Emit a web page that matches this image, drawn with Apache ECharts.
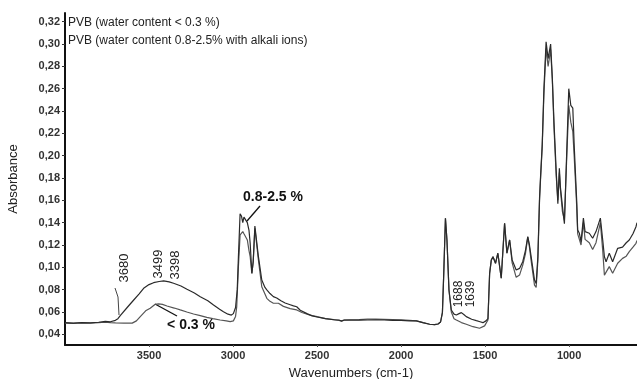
<!DOCTYPE html>
<html>
<head>
<meta charset="utf-8">
<script src="https://cdn.jsdelivr.net/npm/echarts@6/dist/echarts.min.js"></script>
<style>
html,body{margin:0;padding:0;background:#fff;}
#chart{width:637px;height:379px;}
</style>
</head>
<body>
<div id="chart"></div>
<script>
// Wavenumbers (cm-1) and absorbance, PVB water content 0.8-2.5 % with alkali ions
var wnHigh = [4000,3950,3900,3850,3800,3760,3730,3700,3685,3670,3630,3591,3560,3532,3500,3473,3440,3413,3380,3354,3310,3274,3230,3195,3150,3116,3080,3057,3030,3010,2998,2985,2975,2968,2958,2950,2942,2935,2928,2915,2905,2898,2888,2880,2870,2863,2849,2829,2810,2799,2780,2760,2740,2730,2715,2690,2660,2640,2621,2600,2560,2530,2500,2450,2400,2370,2354,2340,2300,2250,2200,2150,2100,2050,2000,1950,1909,1870,1830,1800,1780,1765,1754,1746,1736,1727,1715,1701,1685,1671,1655,1641,1625,1612,1580,1552,1530,1513,1495,1483,1473,1463,1453,1438,1424,1404,1384,1370,1354,1339,1315,1295,1276,1260,1246,1236,1226,1206,1196,1186,1176,1170,1160,1150,1137,1125,1110,1100,1090,1077,1067,1058,1052,1040,1028,1015,1002,990,978,970,955,949,939,929,915,905,880,860,840,814,800,790,780,761,741,711,682,660,642,620,602,596];
var absHigh = [0.0505,0.0500,0.0505,0.0503,0.0508,0.0515,0.0512,0.0525,0.0540,0.0570,0.0640,0.0707,0.0760,0.0812,0.0845,0.0862,0.0873,0.0878,0.0870,0.0857,0.0832,0.0803,0.0770,0.0737,0.0700,0.0662,0.0625,0.0602,0.0580,0.0572,0.0585,0.0640,0.0800,0.1095,0.1480,0.1460,0.1400,0.1450,0.1460,0.1400,0.1330,0.1215,0.0946,0.1050,0.1370,0.1360,0.1095,0.0886,0.0820,0.0797,0.0765,0.0737,0.0725,0.0722,0.0700,0.0680,0.0665,0.0655,0.0647,0.0615,0.0585,0.0565,0.0555,0.0540,0.0530,0.0528,0.0518,0.0526,0.0526,0.0526,0.0528,0.0530,0.0528,0.0525,0.0525,0.0520,0.0520,0.0505,0.0490,0.0486,0.0492,0.0510,0.0595,0.0946,0.1440,0.1245,0.0797,0.0618,0.0580,0.0573,0.0585,0.0594,0.0575,0.0558,0.0535,0.0522,0.0512,0.0504,0.0520,0.0540,0.0946,0.1066,0.1095,0.1036,0.1126,0.0902,0.1394,0.1126,0.1245,0.1066,0.0976,0.0990,0.1050,0.1150,0.1274,0.1200,0.1095,0.0886,0.0856,0.1095,0.1620,0.1810,0.2100,0.2600,0.3020,0.2870,0.3000,0.2700,0.2300,0.1870,0.1570,0.1887,0.1720,0.1550,0.1390,0.2000,0.2600,0.2450,0.2425,0.2100,0.1600,0.1334,0.1305,0.1230,0.1440,0.1320,0.1305,0.1260,0.1320,0.1440,0.1245,0.1095,0.1050,0.1126,0.1050,0.1170,0.1180,0.1220,0.1245,0.1300,0.1364,0.1400];

// PVB water content < 0.3 %
var wnLow = [4000,3950,3900,3850,3800,3760,3730,3700,3650,3600,3575,3552,3520,3493,3463,3443,3420,3393,3350,3314,3275,3235,3195,3156,3120,3077,3040,3017,2998,2985,2978,2968,2958,2950,2942,2935,2928,2915,2905,2898,2888,2880,2870,2863,2849,2829,2810,2799,2780,2760,2730,2700,2660,2621,2590,2550,2500,2450,2400,2354,2340,2300,2250,2200,2150,2100,2050,2000,1950,1909,1870,1830,1800,1780,1765,1754,1746,1736,1727,1715,1701,1685,1671,1641,1612,1572,1533,1503,1483,1473,1463,1453,1438,1424,1404,1384,1370,1354,1339,1315,1295,1276,1260,1246,1236,1226,1206,1196,1186,1176,1170,1160,1150,1137,1125,1110,1100,1090,1077,1067,1058,1052,1040,1028,1015,1002,990,978,970,955,949,939,929,915,905,880,860,840,814,800,790,780,761,741,711,682,660,642,620,602,596];
var absLow = [0.0500,0.0498,0.0502,0.0500,0.0505,0.0508,0.0505,0.0503,0.0500,0.0500,0.0520,0.0558,0.0610,0.0633,0.0669,0.0672,0.0668,0.0653,0.0635,0.0618,0.0600,0.0582,0.0567,0.0552,0.0540,0.0528,0.0520,0.0513,0.0520,0.0560,0.0648,0.1006,0.1290,0.1300,0.1320,0.1300,0.1290,0.1245,0.1150,0.1095,0.0946,0.1050,0.1350,0.1340,0.1066,0.0826,0.0760,0.0722,0.0695,0.0678,0.0678,0.0650,0.0630,0.0618,0.0595,0.0575,0.0558,0.0540,0.0532,0.0520,0.0528,0.0530,0.0532,0.0535,0.0536,0.0534,0.0532,0.0530,0.0525,0.0520,0.0505,0.0490,0.0486,0.0492,0.0510,0.0595,0.0946,0.1440,0.1245,0.0797,0.0600,0.0540,0.0528,0.0505,0.0490,0.0468,0.0454,0.0475,0.0528,0.0946,0.1066,0.1095,0.1036,0.1126,0.0902,0.1394,0.1126,0.1245,0.1040,0.0910,0.0930,0.1020,0.1120,0.1270,0.1180,0.1060,0.0840,0.0820,0.1060,0.1600,0.1790,0.2080,0.2550,0.2960,0.2800,0.2950,0.2680,0.2250,0.1820,0.1600,0.1850,0.1700,0.1500,0.1420,0.1950,0.2450,0.2300,0.2215,0.2000,0.1550,0.1300,0.1250,0.1200,0.1400,0.1250,0.1220,0.1160,0.1220,0.1400,0.1150,0.0930,0.0916,0.1006,0.0946,0.1036,0.1080,0.1100,0.1140,0.1180,0.1215,0.1240];

var xTicks = [3500,3000,2500,2000,1500,1000];
var yTicks = [0.04,0.06,0.08,0.10,0.12,0.14,0.16,0.18,0.20,0.22,0.24,0.26,0.28,0.30,0.32];
var seriesNames = ['PVB (water content < 0.3 %)','PVB (water content 0.8-2.5% with alkali ions)'];

function zip(a,b){var r=[];for(var i=0;i<a.length;i++){r.push([a[i],b[i]]);}return r;}

var chart = echarts.init(document.getElementById('chart'), null, {renderer:'canvas'});
var FONT = '"Liberation Sans", Arial, sans-serif';
var txt = '#222';

chart.setOption({
  animation:false,
  backgroundColor:'#fff',
  grid:{left:65,right:0,top:13,bottom:34,containLabel:false,outerBoundsMode:'none'},
  xAxis:{
    type:'value', inverse:true, min:596, max:4000,
    name:'Wavenumbers (cm-1)', nameLocation:'middle', nameGap:22,
    nameTextStyle:{fontFamily:FONT,fontSize:13,color:txt},
    axisLine:{lineStyle:{color:'#111',width:2}},
    axisTick:{show:true,length:2,customValues:xTicks,lineStyle:{color:'#555'}},
    axisLabel:{customValues:xTicks,fontFamily:FONT,fontSize:11,fontWeight:'bold',color:'#333',margin:5,
      formatter:function(v){return String(v);}},
    splitLine:{show:false}
  },
  yAxis:{
    type:'value', min:0.0304, max:0.3278,
    name:'Absorbance', nameLocation:'middle', nameGap:45, nameRotate:90,
    nameTextStyle:{fontFamily:FONT,fontSize:13,color:txt},
    axisLine:{show:true,lineStyle:{color:'#111',width:2}},
    axisTick:{show:true,length:3,customValues:yTicks,lineStyle:{color:'#333'}},
    axisLabel:{customValues:yTicks,fontFamily:FONT,fontSize:11,fontWeight:'bold',color:'#333',margin:5,
      formatter:function(v){return v.toFixed(2).replace('.',',');}},
    splitLine:{show:false}
  },
  series:[
    {name:seriesNames[0],type:'line',data:zip(wnLow,absLow),showSymbol:false,smooth:false,
     lineStyle:{color:'#555',width:1.2}},
    {name:seriesNames[1],type:'line',data:zip(wnHigh,absHigh),showSymbol:false,smooth:false,
     lineStyle:{color:'#2a2a2a',width:1.2}}
  ],
  graphic:[
    {type:'text',left:68,top:17,style:{text:seriesNames[0],font:'12px '+FONT,fill:txt}},
    {type:'text',left:68,top:35,style:{text:seriesNames[1],font:'12px '+FONT,fill:txt}},
    {type:'text',x:273,y:197,style:{text:'0.8-2.5 %',font:'bold 14px '+FONT,fill:'#111',align:'center',verticalAlign:'middle'}},
    {type:'line',shape:{x1:260,y1:206,x2:247,y2:221},style:{stroke:'#111',lineWidth:1.3}},
    {type:'text',x:191,y:325,style:{text:'< 0.3 %',font:'bold 14px '+FONT,fill:'#111',align:'center',verticalAlign:'middle'}},
    {type:'line',shape:{x1:155,y1:304,x2:177,y2:316},style:{stroke:'#111',lineWidth:1.3}},
    {type:'polyline',shape:{points:[[115,288],[118,297],[119,315]]},style:{stroke:'#444',lineWidth:1,fill:null}},
    {type:'text',x:124,y:268,rotation:Math.PI/2,style:{text:'3680',font:'13px '+FONT,fill:txt,align:'center',verticalAlign:'middle'}},
    {type:'text',x:158,y:264,rotation:Math.PI/2,style:{text:'3499',font:'13px '+FONT,fill:txt,align:'center',verticalAlign:'middle'}},
    {type:'text',x:175,y:265,rotation:Math.PI/2,style:{text:'3398',font:'13px '+FONT,fill:txt,align:'center',verticalAlign:'middle'}},
    {type:'text',x:459,y:294,rotation:Math.PI/2,style:{text:'1688',font:'12px '+FONT,fill:txt,align:'center',verticalAlign:'middle'}},
    {type:'text',x:471,y:294,rotation:Math.PI/2,style:{text:'1639',font:'12px '+FONT,fill:txt,align:'center',verticalAlign:'middle'}}
  ]
});
</script>
</body>
</html>
